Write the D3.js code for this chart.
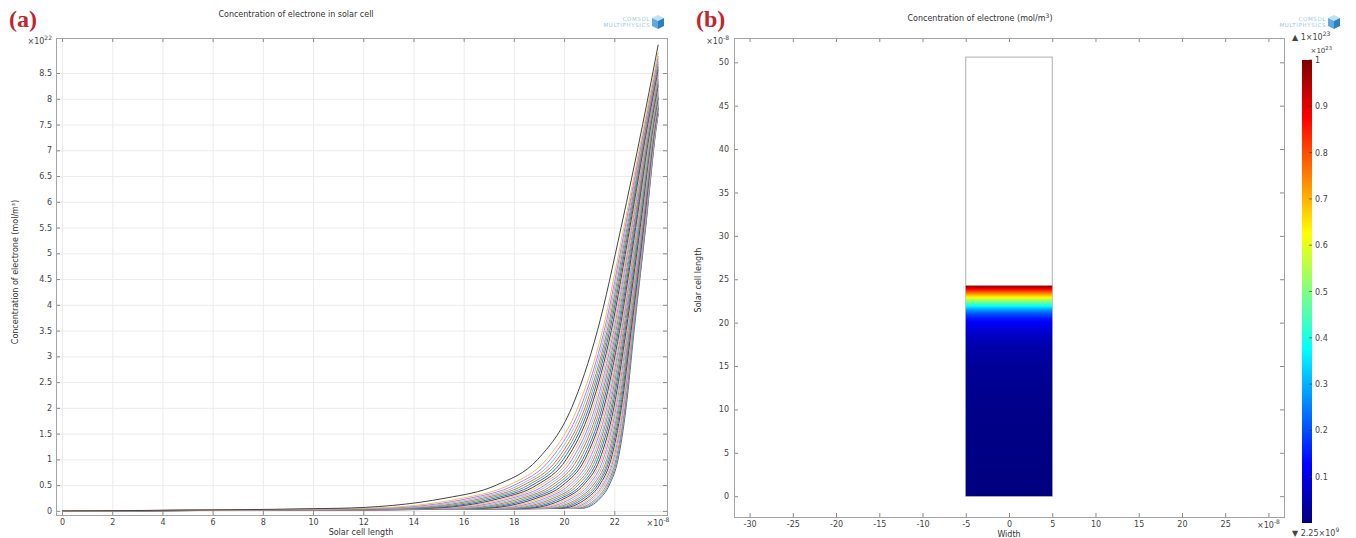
<!DOCTYPE html>
<html lang="en">
<head>
<meta charset="UTF-8">
<title>Concentration of electrone</title>
<style>
  body { margin: 0; background: #fff; }
  svg { display: block; font-family: "DejaVu Sans", sans-serif; }
  .tick text { font-size: 8px; fill: #444; font-family: "DejaVu Sans", sans-serif; }
  .tick line { stroke: #8a8a8a; }
  .grid .tick line { stroke: #ececec; }
  .domain { display: none; }
  .frame { fill: none; stroke: #a4a4a4; }
  .title, .axis-label { font-size: 8px; fill: #333; }
  .panel-label { font-family: "Liberation Serif", serif; font-weight: bold; font-size: 24px; fill: #c0262c; }
  .logo { font-size: 5.5px; fill: #9cc6e6; letter-spacing: 0.6px; }
</style>
</head>
<body>
<svg id="chart" width="1356" height="538"></svg>
<script src="https://cdn.jsdelivr.net/npm/d3@7"></script>
<script>

// panel (a): concentration along the cell, one curve per time step
// each curve is given by the x position (x1e-8) where it crosses these levels (x1e22)
const levels = [0.05, 0.25, 0.5, 1, 2, 3.5, 5.5, 7.5];
const cellEnd = 23.75;

const crossings = [
    [20.70, 21.45, 21.80, 22.15, 22.47, 22.79, 23.25, 23.69],
    [20.58, 21.38, 21.75, 22.11, 22.44, 22.77, 23.24, 23.68],
    [20.46, 21.30, 21.69, 22.07, 22.42, 22.75, 23.23, 23.68],
    [20.31, 21.20, 21.62, 22.02, 22.38, 22.73, 23.21, 23.67],
    [20.17, 21.11, 21.55, 21.97, 22.35, 22.71, 23.20, 23.66],
    [20.02, 21.02, 21.49, 21.93, 22.32, 22.69, 23.18, 23.65],
    [19.86, 20.92, 21.41, 21.87, 22.28, 22.67, 23.17, 23.64],
    [19.68, 20.80, 21.33, 21.81, 22.24, 22.64, 23.15, 23.63],
    [19.51, 20.69, 21.25, 21.76, 22.20, 22.62, 23.13, 23.62],
    [19.32, 20.58, 21.16, 21.70, 22.16, 22.59, 23.11, 23.61],
    [19.13, 20.45, 21.07, 21.63, 22.12, 22.56, 23.09, 23.60],
    [18.93, 20.32, 20.98, 21.56, 22.07, 22.53, 23.07, 23.59],
    [18.71, 20.19, 20.88, 21.49, 22.03, 22.50, 23.05, 23.58],
    [18.49, 20.05, 20.77, 21.42, 21.98, 22.47, 23.03, 23.56],
    [18.26, 19.90, 20.67, 21.34, 21.92, 22.43, 23.00, 23.55],
    [18.01, 19.75, 20.55, 21.26, 21.87, 22.40, 22.98, 23.54],
    [17.77, 19.59, 20.44, 21.18, 21.81, 22.36, 22.95, 23.52],
    [17.52, 19.43, 20.32, 21.10, 21.76, 22.32, 22.93, 23.51],
    [17.26, 19.27, 20.20, 21.01, 21.70, 22.29, 22.90, 23.49],
    [16.99, 19.09, 20.08, 20.92, 21.64, 22.25, 22.88, 23.48],
    [16.70, 18.92, 19.95, 20.83, 21.58, 22.21, 22.85, 23.46],
    [16.41, 18.73, 19.81, 20.74, 21.51, 22.16, 22.82, 23.44],
    [16.11, 18.54, 19.67, 20.64, 21.44, 22.12, 22.79, 23.43],
    [15.80, 18.34, 19.53, 20.53, 21.37, 22.07, 22.76, 23.41],
    [15.48, 18.14, 19.38, 20.43, 21.30, 22.03, 22.72, 23.39],
    [15.15, 17.93, 19.23, 20.32, 21.23, 21.98, 22.69, 23.37],
    [14.81, 17.72, 19.07, 20.21, 21.15, 21.93, 22.66, 23.35],
    [14.46, 17.50, 18.91, 20.09, 21.07, 21.88, 22.62, 23.33],
    [14.10, 17.27, 18.74, 19.97, 20.99, 21.82, 22.58, 23.31],
    [13.74, 17.03, 18.57, 19.85, 20.91, 21.77, 22.55, 23.29],
    [13.36, 16.79, 18.39, 19.73, 20.83, 21.72, 22.51, 23.27],
    [12.97, 16.55, 18.21, 19.60, 20.74, 21.66, 22.47, 23.24],
    [12.55, 16.28, 18.02, 19.46, 20.65, 21.60, 22.43, 23.22],
    [12.07, 15.98, 17.80, 19.30, 20.54, 21.53, 22.38, 23.19],
    [11.00, 15.30, 17.30, 18.95, 20.30, 21.33, 22.27, 23.13]
];

// value of each curve at the end of the cell (x1e22)
const endValues = [
    7.70, 7.72, 7.73, 7.75, 7.77, 7.79, 7.82, 7.84, 7.87, 7.89,
    7.92, 7.95, 7.98, 8.01, 8.04, 8.07, 8.11, 8.14, 8.18, 8.22,
    8.26, 8.30, 8.34, 8.38, 8.43, 8.47, 8.52, 8.57, 8.62, 8.67,
    8.72, 8.78, 8.83, 8.90, 9.05
];

const curveColors = ["#4f5dd6", "#5cb060", "#e26464", "#66d3de", "#dd6cd6", "#d8c86c", "#454545"];

const aXTicks = [0, 2, 4, 6, 8, 10, 12, 14, 16, 18, 20, 22];
const aYTicks = [0, 0.5, 1, 1.5, 2, 2.5, 3, 3.5, 4, 4.5, 5, 5.5, 6, 6.5, 7, 7.5, 8, 8.5];

// panel (b): 2D cross-section, coloured part of the cell and its profile (x1e23)
const cellWidth = [-5, 5];
const cellHeight = 50.6;
const profilePos = [0, 10, 15, 17, 18, 19, 20, 20.5, 21, 21.5, 22, 22.5, 23, 23.5, 24, 24.27];
const profileVal = [0, 0.01, 0.025, 0.04, 0.055, 0.08, 0.12, 0.15, 0.2, 0.28, 0.4, 0.52, 0.65, 0.78, 0.92, 1.0];

const bXTicks = [-30, -25, -20, -15, -10, -5, 0, 5, 10, 15, 20, 25];
const bYTicks = [0, 5, 10, 15, 20, 25, 30, 35, 40, 45, 50];
const cbTicks = [0.1, 0.2, 0.3, 0.4, 0.5, 0.6, 0.7, 0.8, 0.9, 1];

const jet = d3.scaleLinear()
    .domain([0, 0.125, 0.375, 0.625, 0.875, 1])
    .range(["#00007f", "#0000ff", "#00ffff", "#ffff00", "#ff0000", "#7f0000"]);

const svg = d3.select("#chart");
const plain = d => String(d);

function sci(g, x, y, anchor, base, exp, size) {
    const t = g.append("text")
        .attr("x", x)
        .attr("y", y)
        .attr("text-anchor", anchor)
        .attr("font-size", size)
        .attr("fill", "#444");
    t.append("tspan").text(base);
    t.append("tspan")
        .attr("dy", -size * 0.45)
        .attr("font-size", size * 0.75)
        .text(exp);
    return t;
}

function logo(g, right, top) {
    g.append("text").attr("class", "logo")
        .attr("x", right).attr("y", top + 6)
        .attr("text-anchor", "end").text("COMSOL");
    g.append("text").attr("class", "logo")
        .attr("x", right).attr("y", top + 12)
        .attr("text-anchor", "end").text("MULTIPHYSICS");
    const c = g.append("g").attr("transform", `translate(${right + 8}, ${top + 7})`);
    c.append("path").attr("d", "M0,-7 L6,-4 L0,-1 L-6,-4 Z").attr("fill", "#bfe0f5");
    c.append("path").attr("d", "M-6,-4 L0,-1 L0,7 L-6,4 Z").attr("fill", "#5fa9dc");
    c.append("path").attr("d", "M6,-4 L0,-1 L0,7 L6,4 Z").attr("fill", "#2f7fc0");
}

// ---------- panel (a) ----------
const ax = d3.scaleLinear().domain([-0.24, 24.1]).range([56, 667]);
const ay = d3.scaleLinear().domain([-0.08, 9.18]).range([515, 38]);

const ga = svg.append("g");

ga.append("g").attr("class", "grid")
    .attr("transform", "translate(0,515)")
    .call(d3.axisBottom(ax).tickValues(aXTicks).tickSize(-477).tickFormat(""));
ga.append("g").attr("class", "grid")
    .attr("transform", "translate(56,0)")
    .call(d3.axisLeft(ay).tickValues(aYTicks).tickSize(-611).tickFormat(""));

const line = d3.line()
    .x(d => ax(d[0]))
    .y(d => ay(d[1]))
    .curve(d3.curveMonotoneX);

const curves = crossings.map((row, k) => {
    const pts = [[0, 0]];
    row.forEach((x, i) => pts.push([x, levels[i]]));
    pts.push([cellEnd, endValues[k]]);
    return pts;
});

ga.append("g")
    .selectAll("path")
    .data(curves)
    .join("path")
    .attr("d", line)
    .attr("fill", "none")
    .attr("stroke", (d, k) => curveColors[k % curveColors.length])
    .attr("stroke-width", 1);

ga.append("g")
    .attr("transform", "translate(0,515)")
    .call(d3.axisBottom(ax).tickValues(aXTicks).tickSizeInner(-4).tickSizeOuter(0).tickPadding(4).tickFormat(plain));
ga.append("g")
    .attr("transform", "translate(0,38)")
    .call(d3.axisTop(ax).tickValues(aXTicks).tickSizeInner(-4).tickSizeOuter(0).tickFormat(""));
ga.append("g")
    .attr("transform", "translate(56,0)")
    .call(d3.axisLeft(ay).tickValues(aYTicks).tickSizeInner(-4).tickSizeOuter(0).tickPadding(4).tickFormat(plain));
ga.append("g")
    .attr("transform", "translate(667,0)")
    .call(d3.axisRight(ay).tickValues(aYTicks).tickSizeInner(-4).tickSizeOuter(0).tickFormat(""));

ga.append("rect").attr("class", "frame")
    .attr("x", 56.5).attr("y", 38.5).attr("width", 611).attr("height", 477);

sci(ga, 52, 44, "end", "×10", "22", 8);
sci(ga, 658, 526, "middle", "×10", "-8", 8);

ga.append("text").attr("class", "title")
    .attr("x", 296).attr("y", 17).attr("text-anchor", "middle")
    .text("Concentration of electrone in solar cell");
ga.append("text").attr("class", "axis-label")
    .attr("x", 361).attr("y", 535).attr("text-anchor", "middle")
    .text("Solar cell length");
ga.append("text").attr("class", "axis-label")
    .attr("transform", "translate(18,272) rotate(-90)")
    .attr("text-anchor", "middle")
    .text("Concentration of electrone (mol/m³)");
ga.append("text").attr("class", "panel-label")
    .attr("x", 9).attr("y", 27).text("(a)");
logo(ga, 650, 15);

// ---------- panel (b) ----------
const bx = d3.scaleLinear().domain([-31.8, 31.8]).range([734, 1284]);
const by = d3.scaleLinear().domain([-2.4, 52.8]).range([517, 38]);

const gb = svg.append("g");

const profile = d3.scaleLinear().domain(profilePos).range(profileVal).clamp(true);
const colTop = profilePos[profilePos.length - 1];

const defs = svg.append("defs");
const grad = defs.append("linearGradient")
    .attr("id", "cellGrad")
    .attr("gradientUnits", "userSpaceOnUse")
    .attr("x1", 0).attr("x2", 0)
    .attr("y1", by(0)).attr("y2", by(colTop));
d3.range(0, 201).forEach(i => {
    const pos = colTop * i / 200;
    grad.append("stop")
        .attr("offset", i / 200)
        .attr("stop-color", jet(profile(pos)));
});

gb.append("rect")
    .attr("x", bx(cellWidth[0])).attr("y", by(cellHeight))
    .attr("width", bx(cellWidth[1]) - bx(cellWidth[0]))
    .attr("height", by(0) - by(cellHeight))
    .attr("fill", "#fff").attr("stroke", "#b0b0b0");
gb.append("rect")
    .attr("x", bx(cellWidth[0])).attr("y", by(colTop))
    .attr("width", bx(cellWidth[1]) - bx(cellWidth[0]))
    .attr("height", by(0) - by(colTop))
    .attr("fill", "url(#cellGrad)");

gb.append("g")
    .attr("transform", "translate(0,517)")
    .call(d3.axisBottom(bx).tickValues(bXTicks).tickSizeInner(-4).tickSizeOuter(0).tickPadding(4).tickFormat(plain));
gb.append("g")
    .attr("transform", "translate(0,517)")
    .call(d3.axisBottom(bx).tickValues([30]).tickSizeInner(-4).tickSizeOuter(0).tickFormat(""));
gb.append("g")
    .attr("transform", "translate(0,38)")
    .call(d3.axisTop(bx).tickValues(bXTicks.concat([30])).tickSizeInner(-4).tickSizeOuter(0).tickFormat(""));
gb.append("g")
    .attr("transform", "translate(734,0)")
    .call(d3.axisLeft(by).tickValues(bYTicks).tickSizeInner(-4).tickSizeOuter(0).tickPadding(5).tickFormat(plain));
gb.append("g")
    .attr("transform", "translate(1284,0)")
    .call(d3.axisRight(by).tickValues(bYTicks).tickSizeInner(-4).tickSizeOuter(0).tickFormat(""));

gb.append("rect").attr("class", "frame")
    .attr("x", 734.5).attr("y", 38.5).attr("width", 550).attr("height", 479);

sci(gb, 729, 44, "end", "×10", "-8", 8);
sci(gb, bx(30), 528, "middle", "×10", "-8", 8);

gb.append("text").attr("class", "title")
    .attr("x", 980).attr("y", 21).attr("text-anchor", "middle")
    .call(t => {
        t.append("tspan").text("Concentration of electrone (mol/m");
        t.append("tspan").attr("dy", -3).attr("font-size", 6).text("3");
        t.append("tspan").attr("dy", 3).text(")");
    });
gb.append("text").attr("class", "axis-label")
    .attr("x", 1009).attr("y", 537).attr("text-anchor", "middle")
    .text("Width");
gb.append("text").attr("class", "axis-label")
    .attr("transform", "translate(701,280) rotate(-90)")
    .attr("text-anchor", "middle")
    .text("Solar cell length");
gb.append("text").attr("class", "panel-label")
    .attr("x", 696).attr("y", 27).text("(b)");
logo(gb, 1326, 15);

// colour bar
const cb = d3.scaleLinear().domain([0, 1]).range([523, 60]);
const cbGrad = defs.append("linearGradient")
    .attr("id", "cbGrad")
    .attr("x1", 0).attr("x2", 0).attr("y1", 1).attr("y2", 0);
jet.domain().forEach(v => {
    cbGrad.append("stop").attr("offset", v).attr("stop-color", jet(v));
});
gb.append("rect")
    .attr("x", 1302).attr("y", cb(1))
    .attr("width", 10).attr("height", cb(0) - cb(1))
    .attr("fill", "url(#cbGrad)");
gb.append("g")
    .selectAll("line")
    .data(cbTicks)
    .join("line")
    .attr("x1", 1309).attr("x2", 1312)
    .attr("y1", d => cb(d)).attr("y2", d => cb(d))
    .attr("stroke", "#333").attr("stroke-opacity", 0.6);
gb.append("g")
    .selectAll("text")
    .data(cbTicks)
    .join("text")
    .attr("x", 1315)
    .attr("y", d => cb(d) + 3)
    .attr("font-size", 8).attr("fill", "#444")
    .text(plain);

sci(gb, 1292, 40, "start", "▲ 1×10", "23", 8);
sci(gb, 1332, 53, "end", "×10", "23", 7);
sci(gb, 1292, 536, "start", "▼ 2.25×10", "9", 8);

</script>
</body>
</html>
